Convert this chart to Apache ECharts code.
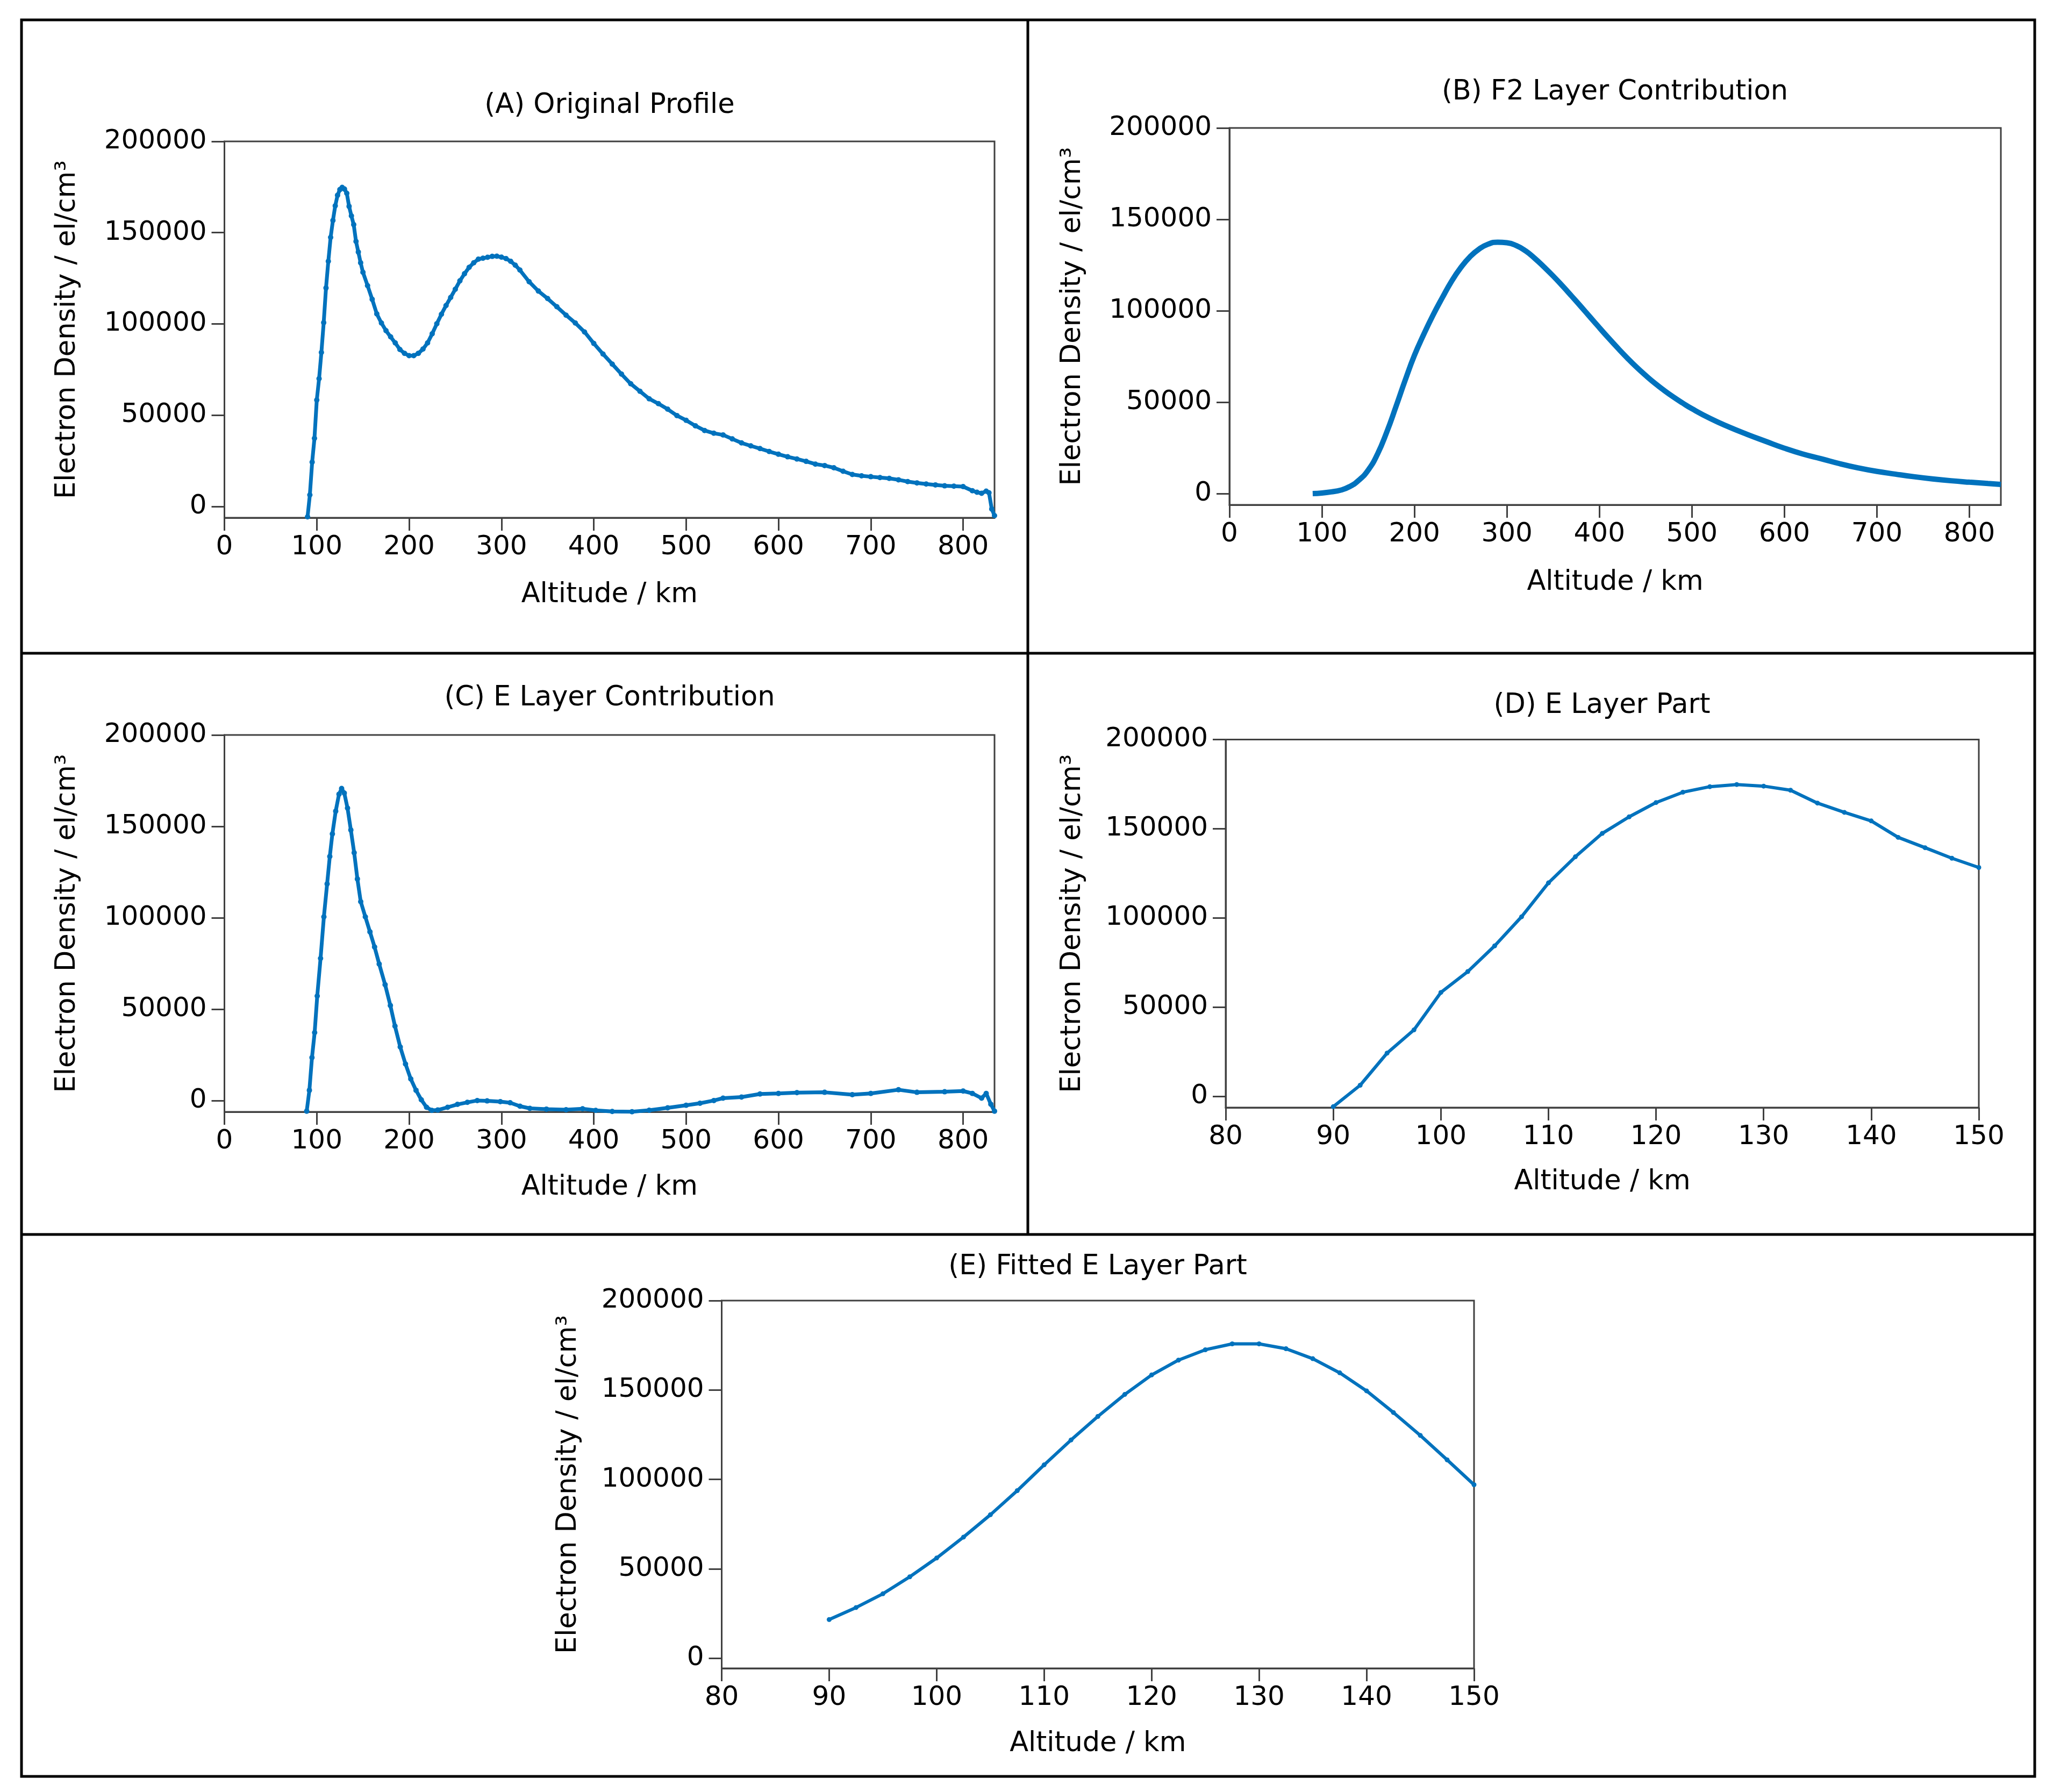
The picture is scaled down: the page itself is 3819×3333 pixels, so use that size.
<!DOCTYPE html>
<html>
<head>
<meta charset="utf-8">
<script src="https://cdn.jsdelivr.net/npm/echarts@6/dist/echarts.min.js"></script>
<style>
html,body{margin:0;padding:0;background:#fff;}
#main{width:3819px;height:3333px;}
</style>
</head>
<body>
<div id="main"></div>
<script>
// ---------- DATA ----------
// (A) Original profile
const altA = [90,92.5,95,97.5,100,102.5,105,107.5,110,112.5,115,117.5,120,122.5,125,127.5,130,132.5,135,137.5,140,142.5,145,147.5,150,155,160,165,170,175,180,185,190,195,200,205,210,215,220,225,230,235,240,245,250,255,260,265,270,275,280,285,290,295,300,305,310,315,320,330,340,350,360,370,380,390,400,410,420,430,440,450,460,470,480,490,500,510,520,530,540,550,560,570,580,590,600,610,620,630,640,650,660,670,680,690,700,710,720,730,740,750,760,770,780,790,800,810,815,820,825,828,831,834];
const denA = [-5700,6300,24300,37300,58300,70000,84400,100700,119700,134300,147400,156700,164700,170500,173600,174800,173900,171600,164400,159200,154400,145200,139400,133500,128300,121000,113500,105500,100500,96300,92900,89600,86000,83900,82600,82600,83900,86200,89600,94600,100100,105300,110100,114500,119000,123600,127500,131000,133500,135500,136000,136500,137000,137100,136600,135800,134300,132200,129500,123100,118000,113900,109400,104800,100500,95600,89300,83500,78000,72500,67200,63100,59000,56300,53300,49800,47200,44200,41600,40100,39200,37000,34800,33200,31700,30100,28600,27200,26000,24700,23200,22400,21200,19300,17500,16800,16300,15800,15400,14600,13600,12900,12300,11800,11300,11100,10900,8600,7800,7200,8400,7500,-1400,-5000];

// (B) F2 layer contribution
const altB = [90,100,110,120,130,140,150,160,170,180,190,200,210,220,230,240,250,260,270,280,290,300,310,320,330,340,350,360,370,380,390,400,410,420,430,440,450,460,470,480,490,500,520,540,560,580,600,620,640,660,680,700,720,740,760,780,800,820,834];
const denB = [0,300,900,1800,3800,7300,12800,21500,33500,47500,62000,75600,87000,97500,107000,116000,123500,129500,133800,136500,137500,137200,135700,132800,128700,124000,119000,113600,108000,102300,96500,90700,85000,79500,74200,69200,64600,60300,56400,52800,49500,46400,41000,36400,32300,28500,24800,21600,19000,16300,14000,12100,10600,9200,8000,7000,6200,5500,5000];

// (C) E layer contribution
const altC = [89.1,92,94.8,97.7,100.5,104.1,107.7,111.2,114.1,116.9,120.5,124.1,126.9,129.8,133.3,136.9,140.5,144,147.6,152.6,157.6,162.6,167.6,174,179.7,184.7,190.4,196.1,201.8,207.5,213.2,218.9,224.6,231,241.7,252.4,263.1,273.8,284.5,298.8,309.4,320.1,330.8,348.7,370,387.9,402.1,420,441.4,460,480,500,515,530,540,560,580,600,620,650,680,700,730,750,780,800,810,820,825,830,834];
const denC = [-5800,5600,23500,37200,57200,77800,100500,118500,133500,145900,158300,167600,170700,168200,160000,148000,135600,121200,108800,100500,92300,84000,74700,63400,52000,40700,29300,20000,11800,5600,400,-3700,-5400,-5200,-3700,-2100,-1000,0,-200,-600,-1200,-3100,-4300,-4700,-5000,-4500,-5400,-6000,-6100,-5300,-4000,-2600,-1500,0,1300,1900,3600,3900,4300,4500,3200,3900,5900,4500,4800,5200,3900,1300,3900,-2000,-5800];

// (D) E layer part
const altD = [90,92.5,95,97.5,100,102.5,105,107.5,110,112.5,115,117.5,120,122.5,125,127.5,130,132.5,135,137.5,140,142.5,145,147.5,150];
const denD = [-5700,6300,24300,37300,58300,70000,84400,100700,119700,134300,147400,156700,164700,170500,173600,174800,173900,171600,164400,159200,154400,145200,139400,133500,128300];

// (E) Fitted E layer part
const altE = [90,92.5,95,97.5,100,102.5,105,107.5,110,112.5,115,117.5,120,122.5,125,127.5,130,132.5,135,137.5,140,142.5,145,147.5,150];
const denE = [21600,28300,36000,45500,56000,67700,80200,93700,108100,122000,135200,147500,158400,166700,172500,175800,175800,173100,167500,159600,149500,137400,124600,110900,97000];

// Titles and tick labels
const titles = ['(A) Original Profile','(B) F2 Layer Contribution','(C) E Layer Contribution','(D) E Layer Part','(E) Fitted E Layer Part'];
const xName = 'Altitude / km';
const yName = 'Electron Density / el/cm³';
const yTicks = [0,50000,100000,150000,200000];
const xTicksWide = [0,100,200,300,400,500,600,700,800];
const xTicksNarrow = [80,90,100,110,120,130,140,150];

// ---------- LAYOUT ----------
const FONT = 'DejaVu Sans';
const FS = 50;
const FS_T = 51;
const AX = '#404040';
const LINE = '#0072BD';

const panels = [
  {grid:{left:417.5, top:263, width:1432.5, height:700}, xmin:0, xmax:834, ymin:-6200, xt:xTicksWide, xGap:118, yGap:266, tTop:171, tX:1134, alt:altA, den:denA, lw:7, sym:10},
  {grid:{left:2287, top:238, width:1435, height:701}, xmin:0, xmax:834, ymin:-6200, xt:xTicksWide, xGap:119, yGap:266, tTop:146, tX:3004, alt:altB, den:denB, lw:10, sym:0, smooth:true},
  {grid:{left:417.5, top:1367, width:1432.5, height:701}, xmin:0, xmax:834, ymin:-6200, xt:xTicksWide, xGap:115, yGap:266, tTop:1273, tX:1134, alt:altC, den:denC, lw:7, sym:10},
  {grid:{left:2280, top:1375.5, width:1401, height:684.5}, xmin:80, xmax:150, ymin:-6200, xt:xTicksNarrow, xGap:113, yGap:259, tTop:1287, tX:2980, alt:altD, den:denD, lw:6, sym:9},
  {grid:{left:1342.5, top:2419, width:1399.5, height:684}, xmin:80, xmax:150, ymin:-5700, xt:xTicksNarrow, xGap:115, yGap:259, tTop:2331, tX:2042, alt:altE, den:denE, lw:6, sym:9}
];

const zip = (a,b) => a.map((v,i)=>[v,b[i]]);
const plain = v => String(Math.round(v));

const option = {
  backgroundColor:'#ffffff',
  animation:false,
  textStyle:{fontFamily:FONT},
  title: panels.map((p,i)=>({
    text:titles[i], left:p.tX, top:p.tTop, textAlign:'center', padding:0,
    textStyle:{fontFamily:FONT, fontSize:FS_T, fontWeight:'normal', color:'#000'}
  })),
  grid: panels.map(p=>Object.assign({show:true, borderColor:AX, borderWidth:3, backgroundColor:'transparent', containLabel:false}, p.grid)),
  xAxis: panels.map((p,i)=>({
    type:'value', gridIndex:i, min:p.xmin, max:p.xmax,
    name:xName, nameLocation:'middle', nameGap:p.xGap,
    nameTextStyle:{fontFamily:FONT, fontSize:FS_T, color:'#000'},
    axisLine:{show:true, onZero:false, lineStyle:{color:AX, width:3}},
    axisTick:{show:true, inside:false, length:24, customValues:p.xt, lineStyle:{color:AX, width:3}},
    axisLabel:{show:true, margin:30, customValues:p.xt, formatter:plain, fontFamily:FONT, fontSize:FS, color:'#000'},
    splitLine:{show:false}
  })),
  yAxis: panels.map((p,i)=>({
    type:'value', gridIndex:i, min:p.ymin, max:200000,
    name:yName, nameLocation:'middle', nameGap:p.yGap,
    nameTextStyle:{fontFamily:FONT, fontSize:FS_T, color:'#000'},
    axisLine:{show:true, onZero:false, lineStyle:{color:AX, width:3}},
    axisTick:{show:true, inside:false, length:24, customValues:yTicks, lineStyle:{color:AX, width:3}},
    axisLabel:{show:true, margin:33, customValues:yTicks, formatter:plain, fontFamily:FONT, fontSize:FS, color:'#000'},
    splitLine:{show:false}
  })),
  series: panels.map((p,i)=>({
    type:'line', xAxisIndex:i, yAxisIndex:i,
    data:zip(p.alt,p.den),
    smooth:p.smooth||false,
    showSymbol:p.sym>0, showAllSymbol:true,
    symbol:'circle', symbolSize:p.sym,
    itemStyle:{color:LINE},
    lineStyle:{color:LINE, width:p.lw},
    clip:true
  })),
  graphic:[
    {type:'rect', shape:{x:40, y:37, width:3745, height:3267}, style:{fill:'none', stroke:'#000', lineWidth:5}},
    {type:'line', shape:{x1:1912, y1:37, x2:1912, y2:2296}, style:{stroke:'#000', lineWidth:5}},
    {type:'line', shape:{x1:40, y1:1215, x2:3785, y2:1215}, style:{stroke:'#000', lineWidth:5}},
    {type:'line', shape:{x1:40, y1:2296, x2:3785, y2:2296}, style:{stroke:'#000', lineWidth:5}}
  ]
};

const chart = echarts.init(document.getElementById('main'), null, {renderer:'canvas', width:3819, height:3333});
chart.setOption(option);
</script>
</body>
</html>
